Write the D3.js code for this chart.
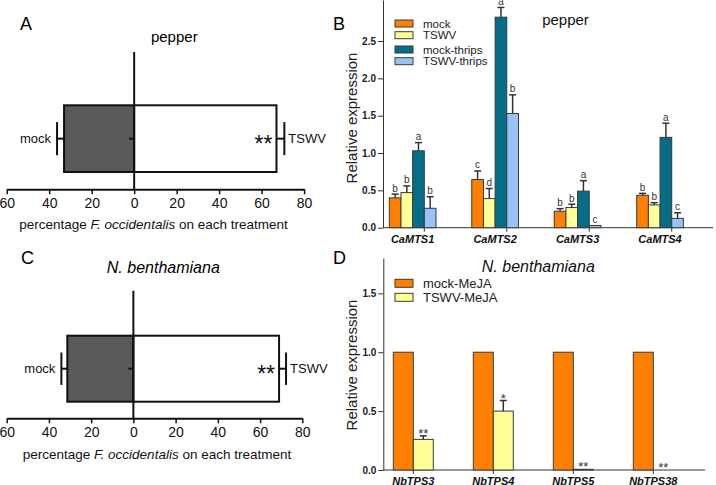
<!DOCTYPE html>
<html>
<head>
<meta charset="utf-8">
<script src="https://cdn.jsdelivr.net/npm/d3@7"></script>
<style>
  body { margin: 0; background: #fff; }
  text { font-family: Arial, "Liberation Sans", sans-serif; }
</style>
</head>
<body>
<div id="chart"></div>
<script>
// choice test (panels A and C)
var choiceGroups = ["mock", "TSWV"];
var choiceTicks = [-60, -40, -20, 0, 20, 40, 60, 80];
var pepperChoice = [33, 67];
var pepperChoiceErr = [3.3, 3.7];
var benthChoice = [31.3, 69];
var benthChoiceErr = [2.8, 3.3];

// pepper qPCR (panel B)
var pepperGenes = ["CaMTS1", "CaMTS2", "CaMTS3", "CaMTS4"];
var pepperSeries = ["mock", "TSWV", "mock-thrips", "TSWV-thrips"];
var pepperMock = [0.40, 0.645, 0.22, 0.435];
var pepperMockErr = [0.05, 0.115, 0.035, 0.025];
var pepperTswv = [0.47, 0.39, 0.27, 0.305];
var pepperTswvErr = [0.09, 0.135, 0.045, 0.03];
var pepperMockThrips = [1.03, 2.82, 0.49, 1.21];
var pepperMockThripsErr = [0.11, 0.13, 0.14, 0.19];
var pepperTswvThrips = [0.26, 1.53, 0.03, 0.125];
var pepperTswvThripsErr = [0.155, 0.25, 0, 0.075];
var pepperLetters = [["b", "c", "b", "b"], ["b", "d", "b", "b"], ["a", "a", "a", "a"], ["b", "b", "c", "c"]];
var pepperTicks = [0, 0.5, 1.0, 1.5, 2.0, 2.5];

// N. benthamiana qPCR (panel D)
var benthGenes = ["NbTPS3", "NbTPS4", "NbTPS5", "NbTPS38"];
var benthSeries = ["mock-MeJA", "TSWV-MeJA"];
var benthMock = [1, 1, 1, 1];
var benthMockErr = [0, 0, 0, 0];
var benthTswv = [0.26, 0.50, 0.006, 0];
var benthTswvErr = [0.03, 0.09, 0, 0];
var benthStars = [["", "", "", ""], ["**", "*", "**", "**"]];
var benthTicks = [0, 0.5, 1.0, 1.5];

var colors = ["#ff7f00", "#ffff99", "#046e87", "#99c3f7"];

var svg = d3.select("#chart")
    .append("svg")
    .attr("width", 716)
    .attr("height", 485);

// panel letters
svg.selectAll(".panel")
    .data([["A", 20, 29.5], ["B", 333, 29.5], ["C", 21, 264], ["D", 333, 264]])
    .enter().append("text")
    .attr("x", d => d[1])
    .attr("y", d => d[2])
    .style("font-size", "18px")
    .text(d => d[0]);

function drawChoice(cfg) {
    var g = svg.append("g");
    var x = d3.scaleLinear().domain([-60, 80]).range(cfg.xRange);
    var y = d3.scaleBand().domain(["row"]).range(cfg.barY);
    var cy = y("row") + y.bandwidth() / 2;

    // title
    g.append("text")
        .attr("x", cfg.titleX)
        .attr("y", cfg.titleY)
        .attr("text-anchor", "middle")
        .style("font-size", cfg.titleSize)
        .style("font-style", cfg.titleItalic ? "italic" : "normal")
        .text(cfg.title);

    // X axis
    var ax = g.append("g")
        .attr("transform", "translate(0," + cfg.axisY + ")")
        .call(d3.axisBottom(x).tickValues(choiceTicks)
            .tickFormat(d => Math.abs(d)).tickSize(5).tickSizeOuter(0).tickPadding(4));
    ax.select(".domain").attr("stroke", "#111").attr("stroke-width", 2);
    ax.selectAll(".tick line").attr("stroke", "#111").attr("stroke-width", 1.5);
    ax.selectAll(".tick text").style("font-size", "14px").attr("fill", "#111");

    // axis title
    var t = g.append("text")
        .attr("x", cfg.labelX)
        .attr("y", cfg.labelY)
        .attr("text-anchor", "middle")
        .style("font-size", "13.5px")
        .attr("fill", "#111");
    t.append("tspan").text("percentage  ");
    t.append("tspan").style("font-style", "italic").text("F. occidentalis");
    t.append("tspan").text(" on each treatment");

    var bars = choiceGroups.map(function (grp, i) {
        return { group: grp, value: cfg.values[i], err: cfg.errs[i], sign: i === 0 ? -1 : 1 };
    });

    g.selectAll("rect.bar")
        .data(bars)
        .enter().append("rect")
        .attr("class", "bar")
        .attr("x", d => Math.min(x(0), x(d.sign * d.value)))
        .attr("y", y("row"))
        .attr("width", d => Math.abs(x(d.sign * d.value) - x(0)))
        .attr("height", y.bandwidth())
        .attr("fill", d => d.sign < 0 ? "#595959" : "#fff")
        .attr("stroke", "#111")
        .attr("stroke-width", 2);

    // error bars
    g.selectAll("line.err")
        .data(bars)
        .enter().append("line")
        .attr("x1", d => x(d.sign * d.value))
        .attr("x2", d => x(d.sign * (d.value + d.err)))
        .attr("y1", cy).attr("y2", cy)
        .attr("stroke", "#111").attr("stroke-width", 2);
    g.selectAll("line.cap")
        .data(bars)
        .enter().append("line")
        .attr("x1", d => x(d.sign * (d.value + d.err)))
        .attr("x2", d => x(d.sign * (d.value + d.err)))
        .attr("y1", cy - cfg.capHalf).attr("y2", cy + cfg.capHalf)
        .attr("stroke", "#111").attr("stroke-width", 2);

    // zero line and small category tick
    g.append("line")
        .attr("x1", x(0)).attr("x2", x(0))
        .attr("y1", cfg.lineTop).attr("y2", cfg.axisY)
        .attr("stroke", "#111").attr("stroke-width", 2);
    g.append("line")
        .attr("x1", x(0) - 5).attr("x2", x(0))
        .attr("y1", cy).attr("y2", cy)
        .attr("stroke", "#111").attr("stroke-width", 2);

    // category labels
    g.selectAll("text.cat")
        .data(bars)
        .enter().append("text")
        .attr("x", d => x(d.sign * (d.value + d.err)) + (d.sign < 0 ? -6 : 4))
        .attr("y", cy + 4.5)
        .attr("text-anchor", d => d.sign < 0 ? "end" : "start")
        .style("font-size", "13px")
        .attr("fill", "#111")
        .text(d => d.group);

    // significance
    g.append("text")
        .attr("x", x(bars[1].value) - 4)
        .attr("y", cy + 13)
        .attr("text-anchor", "end")
        .style("font-size", "23px")
        .attr("fill", "#111")
        .text("**");
}

function drawExpr(cfg) {
    var g = svg.append("g");
    var x0 = d3.scaleBand().domain(cfg.genes).range(cfg.xRange).paddingInner(cfg.pad);
    var x1 = d3.scaleBand().domain(cfg.series).range([0, x0.bandwidth()]);
    var y = d3.scaleLinear().domain(cfg.yDomain).range(cfg.yRange);

    // Y axis
    var ay = g.append("g")
        .attr("transform", "translate(" + cfg.axisX + ",0)")
        .call(d3.axisLeft(y).tickValues(cfg.yTicks).tickFormat(d3.format(".1f"))
            .tickSize(5).tickSizeOuter(0).tickPadding(2));
    ay.select(".domain").attr("stroke", "#333");
    ay.selectAll(".tick line").attr("stroke", "#333");
    ay.selectAll(".tick text").style("font-size", "10px").style("font-weight", "bold").attr("fill", "#222");

    // Y axis label
    g.append("text")
        .attr("transform", "translate(" + cfg.yLabelX + "," + cfg.yLabelY + ") rotate(-90)")
        .attr("text-anchor", "middle")
        .style("font-size", "15px")
        .attr("fill", "#222")
        .text("Relative expression");

    // X axis line, ticks and gene labels
    g.append("line")
        .attr("x1", cfg.axisX).attr("x2", cfg.axisEnd)
        .attr("y1", y(0)).attr("y2", y(0))
        .attr("stroke", "#333");
    g.selectAll("line.xtick")
        .data(cfg.genes)
        .enter().append("line")
        .attr("x1", d => x0(d) + x1(cfg.tickSeries) + (cfg.tickEnd ? x1.bandwidth() : 0))
        .attr("x2", d => x0(d) + x1(cfg.tickSeries) + (cfg.tickEnd ? x1.bandwidth() : 0))
        .attr("y1", y(0)).attr("y2", y(0) + 4)
        .attr("stroke", "#333");
    g.selectAll("text.gene")
        .data(cfg.genes)
        .enter().append("text")
        .attr("x", d => x0(d) + x0.bandwidth() / 2)
        .attr("y", cfg.geneY)
        .attr("text-anchor", "middle")
        .style("font-size", "11px")
        .style("font-weight", "bold")
        .style("font-style", "italic")
        .attr("fill", "#111")
        .text(d => d);

    // bars
    cfg.series.forEach(function (s, si) {
        var rows = cfg.genes.map(function (gene, gi) {
            return { gene: gene, value: cfg.values[si][gi], err: cfg.errs[si][gi], mark: cfg.marks[si][gi] };
        });
        var sg = g.append("g");
        sg.selectAll("rect")
            .data(rows)
            .enter().append("rect")
            .attr("x", d => x0(d.gene) + x1(s))
            .attr("y", d => y(d.value))
            .attr("width", x1.bandwidth())
            .attr("height", d => y(0) - y(d.value))
            .attr("fill", cfg.colors[si])
            .attr("stroke", "#3a3a3a")
            .attr("stroke-width", 1);
        var withErr = rows.filter(d => d.err > 0);
        sg.selectAll("line.ev")
            .data(withErr)
            .enter().append("line")
            .attr("x1", d => x0(d.gene) + x1(s) + x1.bandwidth() / 2)
            .attr("x2", d => x0(d.gene) + x1(s) + x1.bandwidth() / 2)
            .attr("y1", d => y(d.value)).attr("y2", d => y(d.value + d.err))
            .attr("stroke", "#333").attr("stroke-width", 1.5);
        sg.selectAll("line.ec")
            .data(withErr)
            .enter().append("line")
            .attr("x1", d => x0(d.gene) + x1(s) + x1.bandwidth() / 2 - 3.5)
            .attr("x2", d => x0(d.gene) + x1(s) + x1.bandwidth() / 2 + 3.5)
            .attr("y1", d => y(d.value + d.err)).attr("y2", d => y(d.value + d.err))
            .attr("stroke", "#333").attr("stroke-width", 1.5);
        sg.selectAll("text.mark")
            .data(rows.filter(d => d.mark))
            .enter().append("text")
            .attr("x", d => x0(d.gene) + x1(s) + x1.bandwidth() / 2)
            .attr("y", d => y(d.value + d.err) + cfg.markDy)
            .attr("text-anchor", "middle")
            .style("font-size", cfg.markSize)
            .attr("fill", "#333")
            .text(d => d.mark);
    });

    // title
    g.append("text")
        .attr("x", cfg.titleX)
        .attr("y", cfg.titleY)
        .attr("text-anchor", "middle")
        .style("font-size", cfg.titleSize)
        .style("font-style", cfg.titleItalic ? "italic" : "normal")
        .attr("fill", "#111")
        .text(cfg.title);

    // legend
    var lg = g.selectAll("g.leg")
        .data(cfg.series)
        .enter().append("g")
        .attr("transform", (d, i) => "translate(" + cfg.legX + "," + cfg.legY[i] + ")");
    lg.append("rect")
        .attr("width", 18).attr("height", cfg.legH)
        .attr("fill", (d, i) => cfg.colors[i])
        .attr("stroke", "#3a3a3a");
    lg.append("text")
        .attr("x", 28)
        .attr("y", cfg.legH / 2)
        .attr("dy", "0.35em")
        .style("font-size", cfg.legSize)
        .attr("fill", "#222")
        .text(d => d);
}

// Panel A
drawChoice({
    values: pepperChoice, errs: pepperChoiceErr,
    xRange: [6.7, 304.1], barY: [105.3, 172], axisY: 189.3, lineTop: 52, capHalf: 16.5,
    title: "pepper", titleX: 174.3, titleY: 41.5, titleSize: "15px", titleItalic: false,
    labelX: 153.5, labelY: 229
});

// Panel C
drawChoice({
    values: benthChoice, errs: benthChoiceErr,
    xRange: [6.7, 302.3], barY: [335.7, 401.7], axisY: 418.3, lineTop: 290.7, capHalf: 16.2,
    title: "N. benthamiana", titleX: 163.3, titleY: 273.3, titleSize: "16px", titleItalic: true,
    labelX: 157, labelY: 459
});

// Panel B
drawExpr({
    genes: pepperGenes, series: pepperSeries, colors: colors,
    values: [pepperMock, pepperTswv, pepperMockThrips, pepperTswvThrips],
    errs: [pepperMockErr, pepperTswvErr, pepperMockThripsErr, pepperTswvThripsErr],
    marks: pepperLetters, markSize: "10px", markDy: -2.5,
    xRange: [389.3, 683.4], pad: 0.434,
    yDomain: [0, 3.05], yRange: [227.7, 0], yTicks: pepperTicks,
    axisX: 383, axisEnd: 713, tickSeries: "mock-thrips", tickEnd: true, geneY: 243,
    yLabelX: 357, yLabelY: 118,
    title: "pepper", titleX: 565.5, titleY: 25, titleSize: "15px", titleItalic: false,
    legX: 395, legY: [20, 31.7, 46, 57.7], legH: 7, legSize: "11.5px"
});

// Panel D
drawExpr({
    genes: benthGenes, series: benthSeries, colors: colors,
    values: [benthMock, benthTswv],
    errs: [benthMockErr, benthTswvErr],
    marks: benthStars, markSize: "13px", markDy: 2,
    xRange: [393.3, 673.3], pad: 0.5,
    yDomain: [0, 1.8], yRange: [470, 258], yTicks: benthTicks,
    axisX: 383.3, axisEnd: 705, tickSeries: "TSWV-MeJA", tickEnd: false, geneY: 484.5,
    yLabelX: 357, yLabelY: 365,
    title: "N. benthamiana", titleX: 538.3, titleY: 271.7, titleSize: "16px", titleItalic: true,
    legX: 395, legY: [279.3, 293.3], legH: 8, legSize: "13px"
});
</script>
</body>
</html>
